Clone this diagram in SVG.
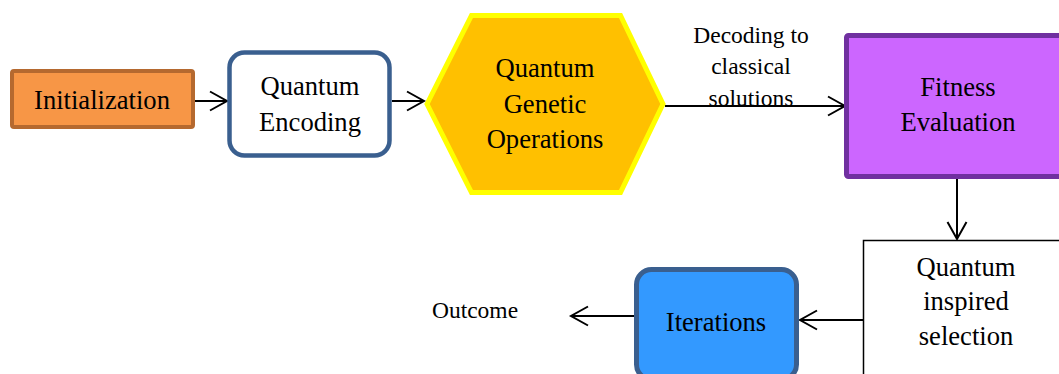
<svg xmlns="http://www.w3.org/2000/svg" width="1059" height="374" viewBox="0 0 1059 374">
<style>
text{font-family:"Liberation Serif","Times New Roman",serif;fill:#000;text-anchor:middle}
.big{font-size:26.6px}
.small{font-size:23.5px}
.conn{stroke:#000;stroke-width:2;fill:none}
</style>
<defs>
<marker id="arr" markerUnits="userSpaceOnUse" viewBox="-19 -11 21 22" markerWidth="21" markerHeight="22" refX="0" refY="0" orient="auto" overflow="visible">
<path d="M-17,-9.5 L0,0 L-17,9.5" fill="none" stroke="#000" stroke-width="2"/>
</marker>
</defs>
<rect width="1059" height="374" fill="#fff"/>
<g id="label-decoding">
<text class="small" x="751" y="43">Decoding to</text>
<text class="small" x="751" y="74">classical</text>
<text class="small" x="751" y="106">solutions</text>
</g>
<g id="connectors">
<line class="conn" x1="195" y1="101" x2="227" y2="101" marker-end="url(#arr)"/>
<line class="conn" x1="392" y1="101" x2="424" y2="101" marker-end="url(#arr)"/>
<line class="conn" x1="665" y1="106" x2="845" y2="106" marker-end="url(#arr)"/>
<line class="conn" x1="957" y1="178" x2="957" y2="239" marker-end="url(#arr)"/>
<line class="conn" x1="863" y1="320" x2="800" y2="320" marker-end="url(#arr)"/>
<line class="conn" x1="634" y1="316" x2="571" y2="316" marker-end="url(#arr)"/>
</g>
<g id="initialization">
<rect x="12" y="71" width="181" height="56" rx="2" fill="#F79646" stroke="#B5692F" stroke-width="4"/>
<text class="big" x="102" y="109">Initialization</text>
</g>
<g id="quantum-encoding">
<rect x="229.5" y="52.5" width="160" height="103" rx="15" fill="#fff" stroke="#3A5F8F" stroke-width="4.5"/>
<text class="big" x="310" y="95">Quantum</text>
<text class="big" x="310" y="131">Encoding</text>
</g>
<g id="quantum-genetic-operations">
<polygon points="427,104 471.5,15.5 620.5,15.5 663,104 620.5,192.5 471.5,192.5" fill="#FFC000" stroke="#FFFF00" stroke-width="5"/>
<text class="big" x="545" y="77">Quantum</text>
<text class="big" x="545" y="113">Genetic</text>
<text class="big" x="545" y="148">Operations</text>
</g>
<g id="fitness-evaluation">
<rect x="846.5" y="35.5" width="220" height="141" rx="2" fill="#CC66FF" stroke="#7030A0" stroke-width="5"/>
<text class="big" x="958" y="96">Fitness</text>
<text class="big" x="958" y="131">Evaluation</text>
</g>
<g id="quantum-inspired-selection">
<rect x="863.5" y="240.5" width="210" height="140" fill="#fff" stroke="#000" stroke-width="1.5"/>
<text class="big" x="966" y="276">Quantum</text>
<text class="big" x="966" y="310">inspired</text>
<text class="big" x="966" y="345">selection</text>
</g>
<g id="iterations">
<rect x="636.5" y="269.5" width="160" height="110" rx="15" fill="#3399FF" stroke="#3A5F8F" stroke-width="5"/>
<text class="big" x="716" y="331">Iterations</text>
</g>
<g id="outcome">
<text class="small" x="475" y="318">Outcome</text>
</g>
</svg>
